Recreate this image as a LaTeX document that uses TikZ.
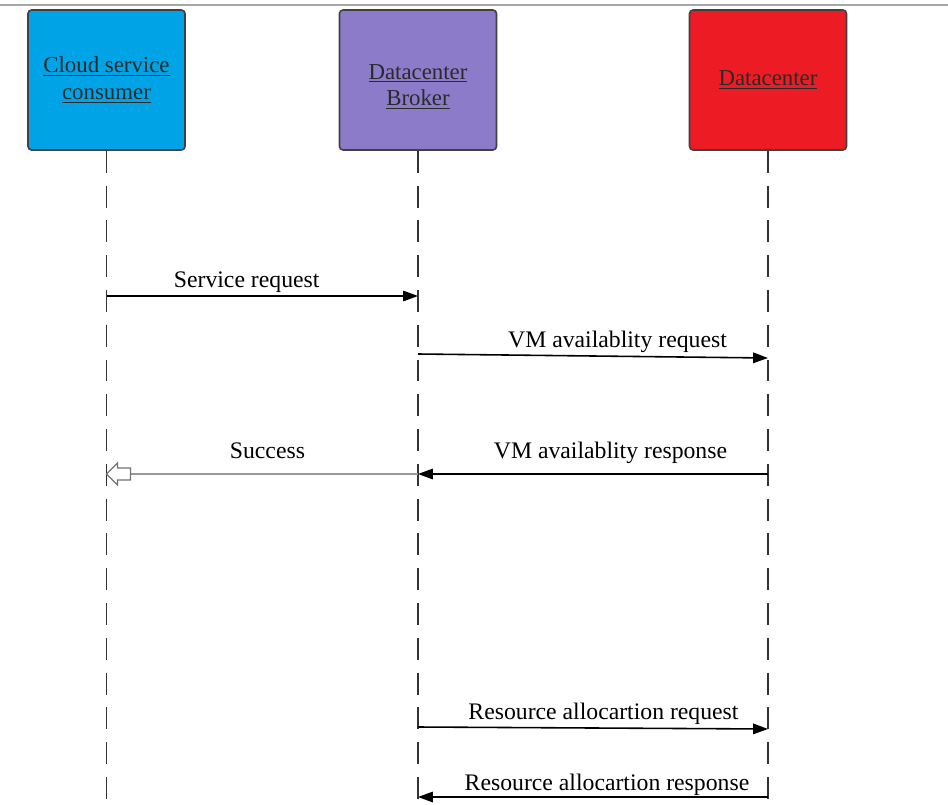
\documentclass[tikz,border=0pt]{standalone}
\usepackage{fontspec}
\setmainfont{Liberation Serif}
\newfontfamily\diagfont{Liberation Serif}
\usetikzlibrary{arrows.meta,calc}
\definecolor{consumerblue}{HTML}{00A3E6}
\definecolor{brokerpurple}{HTML}{8B7BC9}
\definecolor{centerred}{HTML}{ED1C24}
\definecolor{labelgray}{HTML}{2A2A2A}
\begin{document}
\begin{tikzpicture}[x=0.02cm, y=-0.02cm,
  actor/.style={draw=black!75, line width=0.9pt, rounded corners=2pt,
    minimum width=3.14cm, minimum height=2.8cm, align=center,
    text=labelgray, font=\diagfont\fontsize{13}{16}\selectfont},
  lifeline/.style={draw=black!80, line width=1pt, dash pattern=on 12.5pt off 7.3pt},
  msg/.style={line width=0.9pt, -{Triangle[length=8.5pt,width=6pt]}},
  msglabel/.style={above, inner sep=2pt, text depth=0.25em,
    font=\diagfont\fontsize{13.5}{15}\selectfont}]
\useasboundingbox (0,0) rectangle (948,805);
\draw [line width=1.2pt, black!35] (0,5) -- (948,5);
% actors
\node [actor, fill=consumerblue] (consumer) at (106.5,80) {\underline{Cloud service}\\[-1pt]\underline{consumer}};
\node [actor, fill=brokerpurple] (broker) at (418,80) {\rule{0pt}{16pt}\underline{Datacenter}\\[-1pt]\underline{Broker}};
\node [actor, fill=centerred] (center) at (768,80) {\underline{Datacenter}};
% lifelines
\coordinate (consumer end) at (106.5,805);
\coordinate (broker end) at (418,805);
\coordinate (center end) at (768,805);
\draw [lifeline] (consumer.south) -- (consumer end);
\draw [lifeline] (broker.south) -- (broker end);
\draw [lifeline] (center.south) -- (center end);
% message ends
\coordinate (c1) at (106.5,296);
\coordinate (b1) at (418,296);
\coordinate (b2) at (418,354);
\coordinate (d2) at (768,358);
\coordinate (d3) at (768,474);
\coordinate (b3) at (418,474);
\coordinate (c4) at (106.5,474);
\coordinate (b5) at (418,727);
\coordinate (d5) at (768,729);
\coordinate (d6) at (768,797);
\coordinate (b6) at (418,797);
% messages
\draw [msg] (c1) -- (b1) node [msglabel, pos=0.45] {Service request};
\draw [msg] (b2) -- (d2) node [msglabel, pos=0.57] {VM availablity request};
\draw [msg] (d3) -- (b3) node [msglabel, pos=0.45, yshift=4pt] {VM availablity response};
\draw [line width=0.9pt, black!40] (b3) -- ($(c4)+(22,0)$) node [msglabel, pos=0.52, yshift=4pt, text=black] {Success};
\draw [line width=0.7pt, black!55, fill=white] (c4) -- ++(11,-11) -- ++(0,5) -- ++(13,0) -- ++(0,12) -- ++(-13,0) -- ++(0,5) -- cycle;
\draw [msg] (b5) -- (d5) node [msglabel, pos=0.53] {Resource allocartion request};
\draw [msg] (d6) -- (b6) node [msglabel, pos=0.46, yshift=-1pt] {Resource allocartion response};
\end{tikzpicture}
\end{document}
